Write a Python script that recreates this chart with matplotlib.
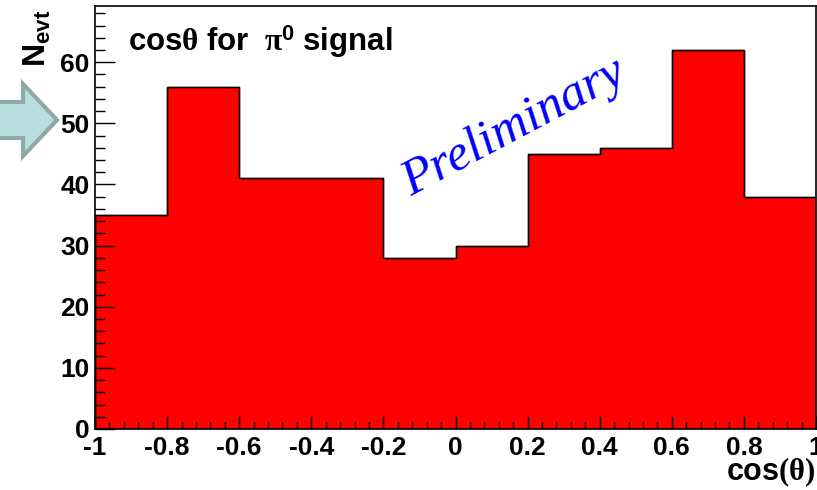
import numpy as np
import matplotlib
matplotlib.use('Agg')
import matplotlib.pyplot as plt
from matplotlib.patches import FancyArrow
from matplotlib.ticker import MultipleLocator
from matplotlib.transforms import IdentityTransform

plt.rcParams['font.family'] = 'Liberation Sans'
plt.rcParams['font.weight'] = 'bold'
plt.rcParams['mathtext.fontset'] = 'custom'
plt.rcParams['mathtext.rm'] = 'Liberation Serif'
plt.rcParams['mathtext.it'] = 'Liberation Serif:italic'
plt.rcParams['mathtext.bf'] = 'Liberation Sans:bold'

# cos(theta) histogram for pi0 signal
bin_edges = np.linspace(-1, 1, 11)
counts = [35, 56, 41, 41, 28, 30, 45, 46, 62, 38]
x_ticks = [-1, -0.8, -0.6, -0.4, -0.2, 0, 0.2, 0.4, 0.6, 0.8, 1]
x_ticklabels = ['-1', '-0.8', '-0.6', '-0.4', '-0.2', '0', '0.2', '0.4', '0.6', '0.8', '1']
y_ticks = [0, 10, 20, 30, 40, 50, 60]

W, H = 817, 490
fig = plt.figure(figsize=(W / 100, H / 100), dpi=100)
ax = fig.add_axes([95 / W, 1 - 429 / H, (816 - 95) / W, (429 - 6) / H])

ax.stairs(counts, bin_edges, fill=True, facecolor='#ff0000', edgecolor='black', linewidth=1)
ax.stairs(counts, bin_edges, color='black', linewidth=1)

ax.set_xlim(-1, 1)
ax.set_ylim(0, 69.2)
ax.set_xticks(x_ticks)
ax.set_xticklabels(x_ticklabels)
ax.set_yticks(y_ticks)
ax.xaxis.set_minor_locator(MultipleLocator(0.04))
ax.yaxis.set_minor_locator(MultipleLocator(2))
ax.tick_params(axis='both', which='both', direction='in', top=False, right=False,
               labelsize=19, width=1, color='black')
ax.tick_params(axis='y', which='major', length=14.4, pad=4)
ax.tick_params(axis='y', which='minor', length=7.2)
ax.tick_params(axis='x', which='major', length=9.4, pad=5)
ax.tick_params(axis='x', which='minor', length=5)
for lab in ax.get_xticklabels() + ax.get_yticklabels():
    lab.set_fontweight('bold')
for s in ax.spines.values():
    s.set_linewidth(1.2)

fig.text(128 / W, 1 - 51 / H,
         r'$\mathbf{cos}\mathrm{\theta}\ \mathbf{for}\ \ \mathrm{\pi}^{\mathbf{0}}\ \mathbf{signal}$',
         fontsize=22.5, ha='left', va='baseline')

fig.text(816 / W, 1 - 480 / H, r'$\mathbf{cos}\mathrm{(\theta)}$',
         fontsize=22, ha='right', va='baseline')

fig.text(53 / W, 1 - 10 / H, r'$\mathbf{N_{evt}}$', fontsize=23, rotation=90,
         ha='right', va='top')

fig.text(514 / W, 1 - 128 / H, 'Preliminary', family='Liberation Serif', style='italic',
         fontweight='normal', fontsize=37, color='#0000ff', rotation=28,
         rotation_mode='anchor', ha='center', va='center')

# decorative arrow pointing at the plot
arrow = FancyArrow(-10, H - 120, 67, 0, width=36, head_width=72, head_length=34,
                   length_includes_head=True, facecolor='#b7dfe2', edgecolor='#8caaa9',
                   linewidth=3, transform=IdentityTransform())
fig.patches.append(arrow)

fig.savefig('out.png', dpi=100)
